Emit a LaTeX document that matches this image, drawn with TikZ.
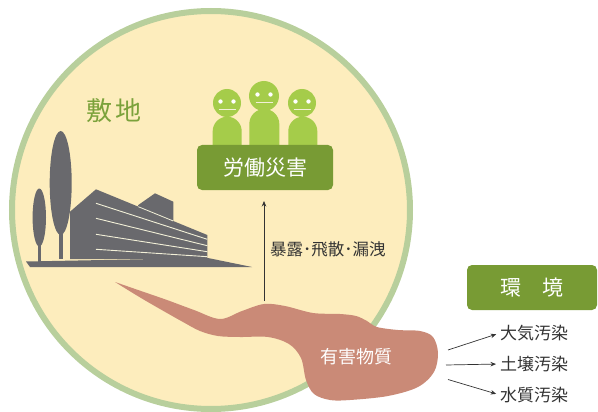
\documentclass[tikz,border=0pt]{standalone}
\usepackage{fontspec}
\newfontfamily\jpfont{Noto Sans CJK JP}
\usetikzlibrary{arrows.meta}

\definecolor{sitefill}{HTML}{FDEDBD}
\definecolor{sitering}{HTML}{B8CF9C}
\definecolor{sitegreen}{HTML}{7BA23B}
\definecolor{workergreen}{HTML}{A5CC4A}
\definecolor{boxgreen}{HTML}{789B34}
\definecolor{hazard}{HTML}{CA8A77}
\definecolor{building}{HTML}{69696D}
\definecolor{inktext}{HTML}{333333}
\definecolor{facecream}{HTML}{F2F0D8}

\tikzset{
  site/.style={fill=sitefill, draw=sitering, line width=6pt},
  worker/.style={fill=workergreen},
  labelbox/.style={fill=boxgreen, rounded corners=5pt, inner sep=0pt,
    text=white, font=\jpfont\fontsize{21}{21}\selectfont},
  sitelabel/.style={text=sitegreen, inner sep=0pt, font=\jpfont\fontsize{26}{26}\selectfont},
  pathlabel/.style={text=inktext, inner sep=0pt, font=\jpfont\fontsize{16.5}{16.5}\selectfont},
  envlabel/.style={text=inktext, inner sep=0pt, anchor=west, font=\jpfont\fontsize{17}{17}\selectfont},
  hazardlabel/.style={text=white, inner sep=0pt, font=\jpfont\fontsize{18}{18}\selectfont},
  flow/.style={draw=inktext, line width=0.7pt, -{Stealth[length=5.5pt,width=4.5pt]}},
  bld/.style={fill=building},
  stripe/.style={draw=facecream, line width=0.9pt},
}

\begin{document}
\begin{tikzpicture}[x=1pt,y=-1pt]
\useasboundingbox (0,0) rectangle (598,412);

% site boundary
\draw[site] (211,210) circle (199pt);

% site caption
\node[sitelabel] (site) at (114,111) {敷\hspace{3pt}地};

% trees
\fill[bld] (38.3,240) rectangle (40.7,262);
\fill[bld] (39.3,217.5) ellipse [x radius=6.7pt, y radius=29pt];
\fill[bld] (59.3,228) rectangle (62.7,259);
\fill[bld] (60.7,183) ellipse [x radius=11pt, y radius=52pt];

% building: rear block, main block, ground wedge
\fill[bld] (136,214) -- (138.3,205) -- (155,193.3) -- (173.3,201.7) -- (173.3,228) -- cycle;
\fill[bld] (70,259) -- (70,211.7) -- (96,189.3) -- (207.3,235) -- (207.3,259) -- cycle;
\draw[stripe, line width=0.8pt] (138.3,206.7) -- (173.3,221);
\fill[bld] (26,261.5) -- (208,258) -- (252,267) -- (30,267) -- cycle;
\draw[stripe] (96,203.3) -- (207.3,239.3);
\draw[stripe] (96,218.3) -- (207.3,245.7);
\draw[stripe] (96,234.3) -- (207.3,251.7);
\draw[stripe] (96,249.3) -- (207.3,256.7);

% workers
\fill[worker] (212.7,150) -- (212.7,131.2) arc[start angle=180, end angle=0, radius=14.5pt] -- (241.7,150) -- cycle;
\fill[worker] (249.3,150) -- (249.3,124) arc[start angle=180, end angle=0, radius=15pt] -- (279.3,150) -- cycle;
\fill[worker] (288.3,150) -- (288.3,131.2) arc[start angle=180, end angle=0, radius=14.5pt] -- (317.3,150) -- cycle;
\foreach \hx/\hy/\hr in {227/103/14, 264/96/15, 302/103/14} {
  \fill[worker] (\hx,\hy) circle (\hr pt);
  \fill[white] (\hx-6.5,\hy-1.5) circle (2.2pt);
  \fill[white] (\hx+6.5,\hy-1.5) circle (2.2pt);
  \draw[facecream, line width=0.8pt] (\hx-8.5,\hy+6.5) -- (\hx+8.5,\hy+6.5);
}

% occupational accident box
\node[labelbox, minimum width=136pt, minimum height=45pt] (accident) at (265,167.5) {労働災害};

% hazardous substance
\fill[hazard] plot[smooth, tension=0.55] coordinates {
  (115,282) (141,291) (167,300) (194,310) (220,319) (242,311) (264,304)
  (285,306) (313,313) (340,314) (356,316) (367,321) (377,327) (398,330)
  (420,331) (433,337) (438,353) (434,372) (418,387) (388,396) (350,400)
  (330,400) (314,394) (306,380) (301,358) (289,344) (268,337) (240,337)
  (218,336) (200,331) (183,322) (167,313) (141,298) (115,282)} -- cycle;
\node[hazardlabel] (hazard) at (356,356.5) {有害物質};

% exposure path
\coordinate (exposure-from) at (264,301);
\coordinate (exposure-to) at (264,201);
\draw[flow] (exposure-from) -- (exposure-to);
\node[pathlabel, anchor=west] (exposure) at (270,249) {暴露･飛散･漏洩};

% environment
\node[labelbox, minimum width=130pt, minimum height=45pt] (environment) at (532,287.5) {環　境};
\node[envlabel] (air) at (500,333) {大気汚染};
\node[envlabel] (soil) at (500,364) {土壌汚染};
\node[envlabel] (water) at (500,395) {水質汚染};
\coordinate (air-from) at (448,350);
\coordinate (soil-from) at (446,365);
\coordinate (water-from) at (448,379.5);
\draw[flow, shorten >=4pt] (air-from) -- (air.west);
\draw[flow, shorten >=4pt] (soil-from) -- (soil.west);
\draw[flow, shorten >=4pt] (water-from) -- (water.west);
\end{tikzpicture}
\end{document}
